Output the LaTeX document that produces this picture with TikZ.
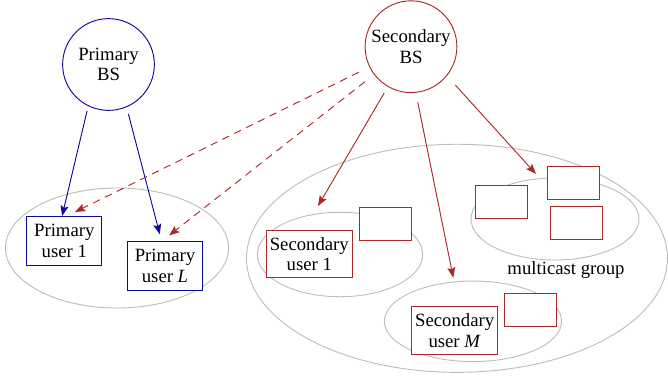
\documentclass[tikz,border=0pt]{standalone}
\usepackage{fontspec}
\setmainfont{Liberation Serif}
\usetikzlibrary{arrows.meta,shapes.geometric}
\definecolor{pblue}{RGB}{10,10,160}
\definecolor{sred}{RGB}{170,40,40}
\definecolor{lgray}{RGB}{190,190,190}
\tikzset{
  bs/.style={circle,draw,fill=white,line width=0.5pt,minimum size=49pt,inner sep=0pt,align=center,font=\fontsize{10pt}{11pt}\selectfont},
  ubox/.style={rectangle,draw,fill=white,line width=0.5pt,inner sep=0pt,align=center,font=\fontsize{10pt}{11pt}\selectfont},
  pbox/.style={ubox,draw=pblue,minimum width=40pt,minimum height=26.2pt},
  sbox/.style={ubox,draw=sred,minimum width=45.9pt,minimum height=25.2pt},
  ebox/.style={ubox,draw=sred,minimum width=27.8pt,minimum height=17.6pt},
  grp/.style={ellipse,draw=lgray,line width=0.5pt,inner sep=0pt},
  arr/.style={line width=0.5pt,-{Stealth[length=5.5pt,width=4.2pt,inset=1pt]}},
  parr/.style={arr,pblue},
  sarr/.style={arr,sred},
  darr/.style={arr,sred,dash pattern=on 4pt off 3pt},
}
\begin{document}
\begin{tikzpicture}[x=0.534pt,y=-0.534pt]
\useasboundingbox (0,0) rectangle (668,379);
% groups
\node[grp,minimum width=119.1pt,minimum height=64.1pt] (gp) at (117,248) {};
\node[grp,minimum width=224.8pt,minimum height=121.8pt] (gs) at (457,258.3) {};
\node[grp,minimum width=88.3pt,minimum height=45.1pt] (g1) at (340,254.5) {};
\node[grp,minimum width=94.7pt,minimum height=43pt] (gm) at (473,321.3) {};
\node[grp,minimum width=89.7pt,minimum height=43.8pt] (gc) at (555,219) {};
% base stations
\node[bs,draw=pblue] (pbs) at (108.5,64.5) {Primary\\BS};
\node[bs,draw=sred] (sbs) at (411,46.7) {Secondary\\BS};
% primary users
\node[pbox] (pu1) at (64.3,241) {Primary\\user 1};
\node[pbox] (pul) at (165,265.7) {Primary\\user \textit{L}};
% secondary users
\node[sbox] (su1) at (309.3,254) {Secondary\\user 1};
\node[ebox] (e1) at (385.7,223.7) {};
\node[sbox] (sum) at (454.7,330.5) {Secondary\\user \textit{M}};
\node[ebox] (em) at (530.3,309.7) {};
\node[ebox] (ca) at (501.3,201.7) {};
\node[ebox] (cb) at (573.3,182.8) {};
\node[ebox] (cc) at (576.7,222.7) {};
\node[font=\fontsize{10pt}{11pt}\selectfont] (mg) at (566,270) {multicast group};
% tips in free space
\coordinate (t1) at (318,206);
\coordinate (t2) at (453.3,277.7);
\coordinate (t3) at (536,174);
% primary links
\draw[parr,shorten <=2.6pt] (pbs.-116) -- (pu1.95);
\draw[parr,shorten <=3.7pt,shorten >=3.5pt] (pbs.-67) -- (pul.98);
% interference
\draw[darr,shorten <=6.4pt,shorten >=4.8pt] (sbs.206.7) -- (pu1.84);
\draw[darr,shorten <=6.2pt,shorten >=4.6pt] (sbs.217.7) -- (pul.96.5);
% secondary links
\draw[sarr,shorten <=3.9pt] (sbs.-120.3) -- (t1);
\draw[sarr,shorten <=5.2pt] (sbs.-84.1) -- (t2);
\draw[sarr,shorten <=6.6pt] (sbs.-39.3) -- (t3);
\end{tikzpicture}
\end{document}
